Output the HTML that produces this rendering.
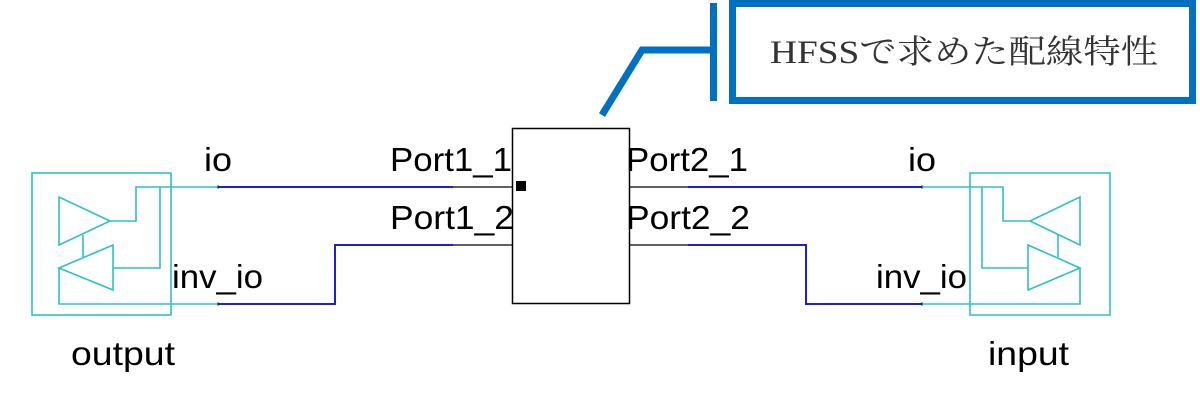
<!DOCTYPE html>
<html><head><meta charset="utf-8"><style>
html,body{margin:0;padding:0;background:#fff;width:1200px;height:401px;overflow:hidden}
svg{display:block}
.l{font-family:"Liberation Sans",Arial,sans-serif;font-size:33px;fill:#000}
</style></head><body>
<svg width="1200" height="401" viewBox="0 0 1200 401">
<g stroke="#0070c0" fill="none">
<rect x="732.5" y="3.5" width="460" height="97" stroke-width="7"/>
<line x1="713.5" y1="3" x2="713.5" y2="101" stroke-width="7"/>
<polyline points="602,115 642,50 713,50" stroke-width="7"/>
</g>
<text x="770" y="63" textLength="388" lengthAdjust="spacingAndGlyphs" style="font-family:'Liberation Serif','Noto Serif CJK SC',serif;font-size:33px;fill:#333">HFSSで求めた配線特性</text>

<rect x="512.5" y="128.5" width="117" height="175" fill="#fff" stroke="#000" stroke-width="1.5"/>
<rect x="516" y="181" width="10" height="10" fill="#000"/>
<g stroke="#000" stroke-width="1.2">
<line x1="453" y1="187" x2="512" y2="187"/>
<line x1="453" y1="245" x2="512" y2="245"/>
<line x1="629" y1="187" x2="688" y2="187"/>
<line x1="629" y1="245" x2="688" y2="245"/>
</g>
<g stroke="#2020d0" stroke-width="2" fill="none">
<line x1="218" y1="187" x2="453" y2="187"/>
<polyline points="218,304 335,304 335,245 453,245"/>
<line x1="688" y1="187" x2="922" y2="187"/>
<polyline points="688,245 806,245 806,304 922,304"/>
</g>
<g fill="#222"><circle cx="218" cy="187" r="1.5"/><circle cx="218" cy="304" r="1.5"/><circle cx="922" cy="187" r="1.5"/><circle cx="922" cy="304" r="1.5"/></g>

<g stroke="#30c0c0" stroke-width="1.6" fill="none">
<rect x="32" y="173" width="139" height="142"/>
<polygon points="59,197 59,245 110,221"/>
<polyline points="110,221 136,221 136,187 218,187"/>
<polyline points="160,187 160,268 113,268"/>
<polygon points="113,245 113,290 59,268"/>
<line x1="83" y1="235" x2="83" y2="257"/>
<polyline points="59,268 59,304 218,304"/>
</g>
<g stroke="#30c0c0" stroke-width="1.6" fill="none">
<polyline points="970,245 970,173 1110,173 1110,315 970,315 970,245"/>
<polygon points="1080,197 1080,245 1030,221"/>
<polyline points="922,187 1003,187 1003,221 1030,221"/>
<polyline points="982,187 982,268 1028,268"/>
<polygon points="1028,245 1028,290 1080,268"/>
<line x1="1058" y1="235" x2="1058" y2="257"/>
<polyline points="922,304 1080,304 1080,268"/>
</g>

<text class="l" x="204" y="171" textLength="28" lengthAdjust="spacingAndGlyphs">io</text>
<text class="l" x="172" y="288" textLength="91" lengthAdjust="spacingAndGlyphs">inv_io</text>
<text class="l" x="71" y="365" textLength="104" lengthAdjust="spacingAndGlyphs">output</text>
<text class="l" x="390" y="171" textLength="122" lengthAdjust="spacingAndGlyphs">Port1_1</text>
<text class="l" x="390" y="229" textLength="124" lengthAdjust="spacingAndGlyphs">Port1_2</text>
<text class="l" x="626" y="171" textLength="122" lengthAdjust="spacingAndGlyphs">Port2_1</text>
<text class="l" x="626" y="229" textLength="124" lengthAdjust="spacingAndGlyphs">Port2_2</text>
<text class="l" x="908" y="171" textLength="28" lengthAdjust="spacingAndGlyphs">io</text>
<text class="l" x="876" y="288" textLength="91" lengthAdjust="spacingAndGlyphs">inv_io</text>
<text class="l" x="988" y="365" textLength="81" lengthAdjust="spacingAndGlyphs">input</text>
</svg>
</body></html>
